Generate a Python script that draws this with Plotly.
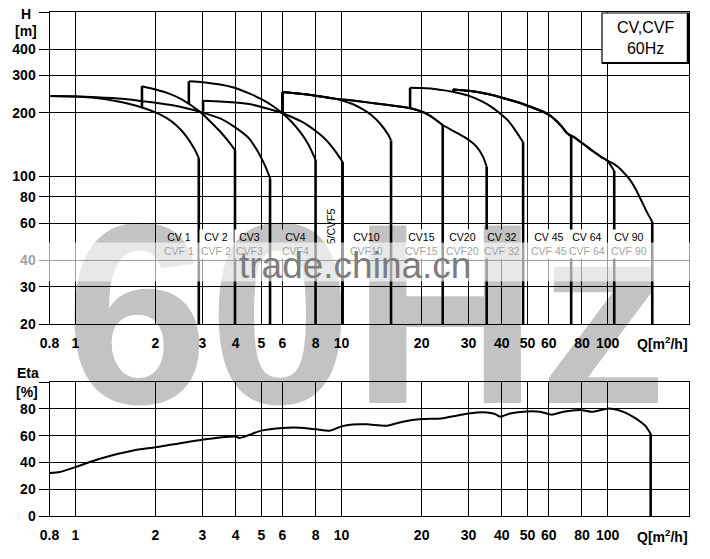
import math
import plotly.graph_objects as go

W, H = 710, 559

# ---------------- data ----------------
X_TICKS = [0.8, 1, 2, 3, 4, 5, 6, 8, 10, 20, 30, 40, 50, 60, 80, 100]
X_LABELS = ["0.8", "1", "2", "3", "4", "5", "6", "8", "10", "20", "30", "40", "50", "60", "80", "100"]
H_TICKS = [20, 30, 40, 60, 80, 100, 200, 300, 400, 600]
H_LABELS = ["20", "30", "40", "60", "80", "100", "200", "300", "400", ""]
ETA_TICKS = [0, 20, 40, 60, 80, 100]
ETA_LABELS = ["0", "20", "40", "60", "80", ""]

CV1_Q = [0.8, 1.0, 1.2, 1.4, 1.6, 1.78, 2.0, 2.2, 2.4, 2.6, 2.8, 2.91]
CV1_H = [240, 239, 235, 228, 220, 212, 201, 189, 174, 156, 135, 122]
CV2_Q = [1.78, 2.0, 2.2, 2.5, 2.94, 3.2, 3.5, 3.8, 3.98]
CV2_H = [267, 258, 249, 232, 202, 183, 163, 144, 133]
CV3_Q = [0.8, 1.0, 1.2, 1.5, 1.78, 2.0, 2.5, 2.94, 3.5, 4.0, 4.5, 4.8, 5.0, 5.2, 5.39]
CV3_H = [240, 239, 237, 233, 227, 223, 213, 202, 188, 170, 151, 134, 122, 110, 98]
CV4_Q = [2.67, 3.0, 3.5, 3.9, 4.5, 5.0, 5.5, 6.0, 6.5, 7.0, 7.5, 7.99]
CV4_H = [282, 279, 272, 264, 247, 232, 216, 199, 181, 162, 142, 120]
CV5_Q = [3.02, 3.5, 4.0, 4.5, 5.0, 5.5, 6.0, 6.5, 7.0, 7.5, 8.0, 8.5, 9.0, 9.5, 10.1]
CV5_H = [228, 226, 224, 220, 213, 206, 199, 191, 183, 174, 164, 154, 143, 131, 117]
CV10_Q = [6.0, 7.0, 8.0, 9.3, 10.0, 11.0, 12.0, 13.0, 14.0, 15.0, 15.35]
CV10_H = [251, 246, 241, 234, 229, 220, 208, 194, 177, 157, 148]
CV15_Q = [6.0, 7.0, 8.0, 9.3, 10.8, 12.5, 14.5, 16.5, 18.1, 19.2, 20.5, 22.0, 24.0]
CV15_H = [251, 246, 241, 234, 229, 224, 219, 214, 210, 206, 200, 190, 175]
CV20_Q = [6.0, 7.0, 8.0, 9.3, 10.8, 12.5, 14.5, 16.5, 18.1, 19.2, 20.5, 22.0, 24.0, 26.8, 30.0, 32.2, 34.0, 35.1]
CV20_H = [251, 246, 241, 234, 229, 224, 219, 214, 210, 206, 200, 190, 175, 162, 149, 138, 124, 111]
CV32_Q = [18.1, 20.0, 22.0, 24.0, 26.3, 30.0, 34.0, 37.0, 39.5, 42.0, 44.0, 46.8, 48.1]
CV32_H = [263, 262, 260, 256, 251, 241, 225, 211, 198, 185, 172, 153, 145]
CV45_Q = [26.3, 30, 35, 39.5, 45, 50, 55.7, 59.2, 63, 67, 70.4, 72.9]
CV45_H = [258, 254, 246, 237, 226, 216, 205, 198, 187, 173, 160, 154]
CV64_Q = [26.3, 30, 35, 39.5, 45, 50, 55.7, 59.2, 63, 67, 70.4, 75, 80, 85, 90, 95, 99.5, 103, 105.8]
CV64_H = [258, 254, 246, 237, 226, 216, 205, 198, 187, 173, 160, 153, 144, 136, 129, 123, 119, 112, 106]
CV90_Q = [26.3, 30, 35, 39.5, 45, 50, 55.7, 59.2, 63, 67, 70.4, 75, 80, 85, 90, 95, 99.5, 105, 110, 115, 121.5, 128, 135, 141, 147]
CV90_H = [258, 254, 246, 237, 226, 216, 205, 198, 187, 173, 160, 153, 144, 136, 129, 123, 119, 115, 110, 104, 96, 86, 75, 67, 61]

# head at which each curve's starting vertical begins (None = no vertical)
START_LOW = [None, 212, None, 221, 202, 199, 199, 199, 209, 251, 251, 251]

ETA_Q = [0.8, 0.874, 1.0, 1.236, 1.65, 2.0, 2.96, 3.98, 4.15, 5.0, 6.0, 6.97, 8.04, 9.05, 10.0, 11.0,
         12.5, 14.8, 17.0, 20.0, 23.7, 27.0, 30.0, 35.1, 37.7, 39.5, 43.0, 49.6, 55.7, 61.6, 68.1,
         80.3, 87.2, 100.8, 111.5, 121.0, 128.6, 138.3, 145.0]
ETA_V = [32.1, 32.8, 36.5, 42.7, 48.9, 51.3, 56.8, 59.3, 58.3, 63.7, 65.7, 65.9, 64.7, 63.7, 66.9, 68.3,
         68.4, 67.4, 70.4, 72.3, 72.8, 74.8, 76.5, 77.3, 76.1, 74.1, 76.5, 78.0, 77.8, 75.6, 77.8,
         79.0, 77.8, 80.2, 78.5, 75.5, 72.3, 67.4, 61.3]

LABEL_TOP = ["CV 1", "CV 2", "CV3", "CV4", "CV10", "CV15", "CV20", "CV 32", "CV 45", "CV 64", "CV 90"]
LABEL_BOT = ["CVF 1", "CVF 2", "CVF3", "CVF4", "CVF10", "CVF15", "CVF20", "CVF 32", "CVF 45", "CVF 64", "CVF 90"]
LABEL_Q = [2.45, 3.38, 4.53, 6.69, 12.46, 19.9, 28.6, 40.1, 60.1, 83.9, 120.7]
LABEL_H = 47.6
CV5_LABEL = "5/CVF5"
CV5_LABEL_Q, CV5_LABEL_H = 9.19, 57.9

SERIES_Q = [CV1_Q, CV2_Q, CV3_Q, CV4_Q, CV5_Q, CV10_Q, CV15_Q, CV20_Q, CV32_Q, CV45_Q, CV64_Q, CV90_Q]
SERIES_H = [CV1_H, CV2_H, CV3_H, CV4_H, CV5_H, CV10_H, CV15_H, CV20_H, CV32_H, CV45_H, CV64_H, CV90_H]

# ---------------- figure ----------------
OFF = 8  # page offset of the figure inside the browser window

def fx(px):
    return (px - OFF) / W

def fy(py):
    return 1 - (py - OFF) / H

X_DOM = [fx(49.5), fx(689)]
TOP_DOM = [fy(324), fy(12)]
BOT_DOM = [fy(516), fy(382)]
FONT = "Liberation Sans, Arial, sans-serif"

fig = go.Figure()
LINE = dict(color="black", width=2, shape="spline", smoothing=0.6)
VLINE = dict(color="black", width=2.6)

for qs, hs, low in zip(SERIES_Q, SERIES_H, START_LOW):
    fig.add_trace(go.Scatter(x=qs, y=hs, mode="lines", line=LINE, xaxis="x", yaxis="y",
                             hoverinfo="skip", showlegend=False))
    fig.add_trace(go.Scatter(x=[qs[-1], qs[-1]], y=[hs[-1], H_TICKS[0]], mode="lines", line=VLINE,
                             xaxis="x", yaxis="y", hoverinfo="skip", showlegend=False))
    if low is not None:
        fig.add_trace(go.Scatter(x=[qs[0], qs[0]], y=[low, hs[0]], mode="lines", line=VLINE,
                                 xaxis="x", yaxis="y", hoverinfo="skip", showlegend=False))

fig.add_trace(go.Scatter(x=ETA_Q, y=ETA_V, mode="lines", line=LINE, xaxis="x2", yaxis="y2",
                         hoverinfo="skip", showlegend=False))
fig.add_trace(go.Scatter(x=[ETA_Q[-1], ETA_Q[-1]], y=[ETA_V[-1], 0], mode="lines", line=VLINE,
                         xaxis="x2", yaxis="y2", hoverinfo="skip", showlegend=False))

tickfont = dict(family=FONT, size=14, color="black", weight="bold")
xcommon = dict(type="log", range=[math.log10(0.8), math.log10(202)], tickvals=X_TICKS, ticktext=X_LABELS,
               showgrid=True, gridcolor="black", gridwidth=1, showline=True, mirror=True,
               linecolor="black", linewidth=1, ticks="", tickfont=tickfont, zeroline=False,
               domain=X_DOM, ticklabelstandoff=6, automargin=False)
ycommon = dict(showgrid=True, gridcolor="black", gridwidth=1, showline=True, mirror=True,
               linecolor="black", linewidth=1, ticks="outside", ticklen=10, tickcolor="black",
               tickwidth=1, tickfont=tickfont, zeroline=False, automargin=False)

fig.update_layout(
    width=W, height=H, margin=dict(l=0, r=0, t=0, b=0, pad=0, autoexpand=False),
    paper_bgcolor="white", plot_bgcolor="white", showlegend=False,
    xaxis=dict(**xcommon, anchor="y"),
    yaxis=dict(**ycommon, type="log", range=[math.log10(20), math.log10(600)], tickvals=H_TICKS,
               ticktext=H_LABELS, domain=TOP_DOM, anchor="x"),
    xaxis2=dict(**xcommon, anchor="y2"),
    yaxis2=dict(**ycommon, range=[0, 100], tickvals=ETA_TICKS, ticktext=ETA_LABELS,
                domain=BOT_DOM, anchor="x2"),
)

def note(text, px, py, font, xa="center", ya="middle", **kw):
    return dict(text=text, x=fx(px), y=fy(py), xref="paper", yref="paper", showarrow=False,
                xanchor=xa, yanchor=ya, font=font, **kw)

ann = []
bold = dict(family=FONT, size=14, color="black", weight="bold")
ann += [
    note("H", 26, 14, bold),
    note("[m]", 26, 31, bold),
    note("Eta", 28, 373, bold),
    note("[%]", 27, 392, bold),
    note("Q[m<sup>2</sup>/h]", 690, 343, bold, xa="right"),
    note("Q[m<sup>2</sup>/h]", 690, 536, bold, xa="right"),
]
lab_font = dict(family=FONT, size=10.5, color="black")
for t, b, q in zip(LABEL_TOP, LABEL_BOT, LABEL_Q):
    ann.append(dict(text=t + "<br>" + b, x=math.log10(q), y=math.log10(LABEL_H), xref="x", yref="y",
                    xanchor="center", yanchor="middle",
                    showarrow=False, font=lab_font, bgcolor="white", borderpad=1))
ann.append(dict(text=CV5_LABEL, x=math.log10(CV5_LABEL_Q), y=math.log10(CV5_LABEL_H), xref="x", yref="y",
                xanchor="center", yanchor="middle",
                showarrow=False, font=lab_font, textangle=-90))
# box text
ann.append(note("CV,CVF<br>60Hz", 645, 38, dict(family=FONT, size=16, color="black")))
# watermarks
ann.append(note("<b>60Hz</b>", 366, 313, dict(family=FONT, size=258, color="rgba(0,0,0,0.235)")))
ann.append(note(" ", 358, 262, dict(family=FONT, size=10, color="white"),
                width=680, height=36, bgcolor="rgba(255,255,255,0.62)"))
ann.append(note("trade.china.cn", 355, 265, dict(family=FONT, size=37, color="rgb(125,125,125)")))
fig.update_layout(annotations=ann)

fig.update_layout(shapes=[
    dict(type="rect", xref="paper", yref="paper", x0=fx(602), x1=fx(688), y0=fy(63), y1=fy(13),
         line=dict(color="black", width=1.2), fillcolor="white", layer="above"),
    dict(type="line", xref="paper", yref="paper", x0=fx(688), x1=fx(688), y0=fy(64), y1=fy(13),
         line=dict(color="black", width=2.5), layer="above"),
    dict(type="line", xref="paper", yref="paper", x0=fx(602), x1=fx(689), y0=fy(63), y1=fy(63),
         line=dict(color="black", width=2.0), layer="above"),
])

fig.write_html("out.html")
